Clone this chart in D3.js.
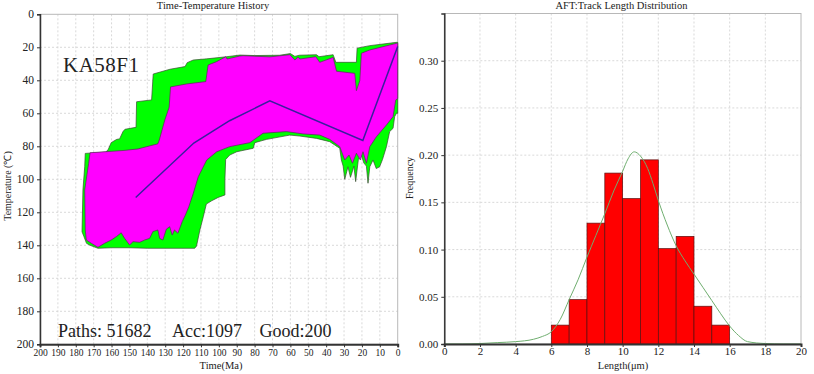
<!DOCTYPE html>
<html>
<head>
<meta charset="utf-8">
<script src="https://cdn.jsdelivr.net/npm/d3@7"></script>
<style>
  html, body { margin: 0; padding: 0; background: #fff; }
  svg { display: block; }
  text { font-family: "Liberation Serif", "Times New Roman", serif; fill: #222; }
</style>
</head>
<body>
<svg id="chart" width="814" height="374"></svg>
<script>
// ---------------- DATA ----------------
// Time-temperature history (time Ma, temperature °C)
const accTop = [[174.7,84.3],[163.1,83.5],[161.8,81.8],[160.2,77.8],[157.1,75.8],[155.5,75.5],[153.6,71.1],[152.5,69.7],[146.3,68.5],[146.0,53.0],[137.6,51.9],[136.7,36.2],[127.3,33.3],[118.9,31.7],[117.7,29.3],[114.3,27.7],[106.8,27.0],[95.6,25.7],[88.2,24.7],[80,25],[66,24.8],[60,23.8],[57.5,25.5],[55,24.8],[45.4,24.5],[44,25.7],[36.1,24.5],[34.6,29.1],[23.1,29.1],[22.7,20.5],[15.6,19],[0.7,17],[0,17]];
const accBottom = [[0,60],[0.7,60],[1.7,62],[2.6,69.1],[4.5,71.1],[6.3,80.2],[8.5,88],[10.1,92.4],[12,93.5],[13.8,88.3],[15.6,92.4],[16.6,102.4],[17.5,92],[19,90],[20.3,85.3],[22,88],[23.5,101.4],[24.5,92],[25.3,95],[26.4,98.8],[27.8,92.4],[29.6,100],[30.5,92],[31.5,88.3],[32.4,81.2],[38,77.2],[45.4,75.2],[54.7,73.8],[60.3,73.2],[73.3,75.8],[79.9,77.8],[80.8,81.2],[90,83.3],[93.9,85.3],[96.2,88],[96.6,100],[96.6,109.5],[100.4,111],[104,113],[107,115],[108.7,122.7],[110.6,130.7],[112.5,140.5],[113.5,141.8],[140,141.8],[150,141.5],[160,141.5],[167.6,141.8],[172,140],[174,138.8],[175.4,134.8],[176.5,131.8],[176,106.5],[175,92.4]];
const goodTop = [[172,83.9],[153,82.5],[145.3,81.6],[134.1,78.5],[133.3,76.2],[130.2,64],[127.8,56.4],[127,44],[118,42.2],[107.3,40.8],[106,30.7],[101.3,28.7],[96.1,25.7],[95.4,27.1],[88.3,25.3],[86.4,25.1],[71.5,25.8],[60.3,24.5],[57.5,27.7],[55.7,25.9],[54.7,27.1],[45.8,25.7],[43.6,29.1],[36.1,26.1],[34.2,34.5],[24,35.8],[23.1,46.3],[21.2,40.2],[20.3,23.6],[15.6,21.6],[0.7,17.6],[0,17.6]];
const goodBottom = [[0,51],[1.1,52],[2.6,62],[6.3,67.1],[11.9,74.2],[15.6,80.2],[17.5,90.3],[19.4,83.3],[20.9,88.3],[23.1,84.2],[25.3,90.3],[27.2,85.3],[29.6,88.3],[32.4,80.2],[38,75.8],[43.6,73.2],[52.9,72.5],[62.2,71.1],[75.3,72.1],[82.7,77.8],[89.2,79.2],[93.9,80.2],[101.2,83.3],[106.8,88.3],[111.5,98.4],[114.3,108.5],[116.8,116.6],[118.7,121.6],[120.5,125.7],[122.9,132.7],[124.8,130.7],[126.1,133.8],[127.5,128.7],[129.4,130.3],[131.3,136.8],[133.1,135.8],[134.1,130.7],[136.9,131.7],[138.7,135.8],[141.5,136.8],[144.3,138.2],[148,137.8],[149.9,139.8],[152.7,135.8],[154.6,132.4],[157.4,134.8],[160.2,136.8],[163.9,138.8],[167.6,141.2],[171.3,138.8],[174.1,136.8],[174.7,130.7],[175,106.5],[172.8,90.3]];
const bestPath = [[146.5,111],[114,78],[94,64.5],[71.5,52.5],[19.5,76.5],[0,19.5]];
const timeTicks = [200,190,180,170,160,150,140,130,120,110,100,90,80,70,60,50,40,30,20,10,0];
const tempTicks = [0,20,40,60,80,100,120,140,160,180,200];
const sampleName = "KA58F1";
const statsLabels = ["Paths: 51682", "Acc:1097", "Good:200"];

// Track length distribution
const binStarts = [6,7,8,9,10,11,12,13,14,15];
const binFreq = [0.020,0.047,0.128,0.181,0.154,0.195,0.101,0.114,0.040,0.020];
const curveLen = [0,1,2,3,4,5,5.5,6,6.5,7,7.5,8,8.5,9,9.5,10,10.3,10.65,11,11.4,11.7,12,12.5,13,13.5,14,14.5,15,15.5,16,16.5,17,18,19,20];
const curveFreq = [0,0,0.0005,0.0015,0.0025,0.005,0.008,0.013,0.026,0.047,0.068,0.092,0.115,0.138,0.162,0.183,0.196,0.2035,0.199,0.186,0.170,0.152,0.126,0.104,0.088,0.074,0.060,0.046,0.032,0.019,0.009,0.0025,0.0005,0,0];
const lenTicks = [0,2,4,6,8,10,12,14,16,18,20];
const freqTicks = [0,0.05,0.10,0.15,0.20,0.25,0.30];

// ---------------- DRAW ----------------
const svg = d3.select("#chart");
const serif = '"Liberation Serif", "Times New Roman", serif';

// ===== Left chart =====
const L = {x0: 40, x1: 397.7, y0: 14.3, y1: 344.3};
const xT = d3.scaleLinear().domain([200, 0]).range([L.x0, L.x1]);
const yT = d3.scaleLinear().domain([0, 200]).range([L.y0, L.y1]);

const gL = svg.append("g");
gL.selectAll(".vg").data(timeTicks.filter(d => d !== 200 && d !== 0)).enter().append("line")
  .attr("x1", d => xT(d)).attr("x2", d => xT(d)).attr("y1", L.y0).attr("y2", L.y1)
  .attr("stroke", "#cfcfcf").attr("stroke-width", 0.8).attr("stroke-dasharray", "2,2");
gL.selectAll(".hg").data(tempTicks.filter(d => d !== 0 && d !== 200)).enter().append("line")
  .attr("x1", L.x0).attr("x2", L.x1).attr("y1", d => yT(d)).attr("y2", d => yT(d))
  .attr("stroke", "#cfcfcf").attr("stroke-width", 0.8).attr("stroke-dasharray", "2,2");
gL.append("rect").attr("x", L.x0).attr("y", L.y0).attr("width", L.x1 - L.x0).attr("height", L.y1 - L.y0)
  .attr("fill", "none").attr("stroke", "#b8b8b8").attr("stroke-width", 1);

const areaLine = d3.line().x(d => xT(d[0])).y(d => yT(d[1]));
gL.append("path").attr("d", areaLine(accTop.concat(accBottom)) + "Z")
  .attr("fill", "#00ff00").attr("stroke", "#3a4a30").attr("stroke-width", 0.7);
gL.append("path").attr("d", areaLine(goodTop.concat(goodBottom)) + "Z")
  .attr("fill", "#ff00ff").attr("stroke", "#5a2a5a").attr("stroke-width", 0.7);
gL.append("path").attr("d", areaLine(bestPath))
  .attr("fill", "none").attr("stroke", "#3a1e9e").attr("stroke-width", 1.5);

const axB = d3.axisBottom(xT).tickValues(timeTicks).tickSize(3).tickFormat(d3.format("d"));
const gAxB = gL.append("g").attr("transform", `translate(0,${L.y1})`).call(axB);
gAxB.select(".domain").attr("stroke", "#333").attr("stroke-width", 2);
gAxB.selectAll(".tick line").attr("stroke", "#333");
gAxB.selectAll("text").attr("font-family", serif).attr("font-size", 9.5).attr("fill", "#222").attr("dy", "0.55em");

const axLft = d3.axisLeft(yT).tickValues(tempTicks).tickSize(3).tickFormat(d3.format("d"));
const gAxL = gL.append("g").attr("transform", `translate(${L.x0},0)`).call(axLft);
gAxL.select(".domain").attr("stroke", "#333").attr("stroke-width", 1.5);
gAxL.selectAll(".tick line").attr("stroke", "#333");
gAxL.selectAll("text").attr("font-family", serif).attr("font-size", 11.5).attr("fill", "#222");

gL.append("text").attr("x", 213).attr("y", 9).attr("text-anchor", "middle")
  .attr("font-size", 10.5).text("Time-Temperature  History");
gL.append("text").attr("x", 221).attr("y", 369).attr("text-anchor", "middle")
  .attr("font-size", 10.5).text("Time(Ma)");
gL.append("text").attr("transform", "translate(11,186) rotate(-90)").attr("text-anchor", "middle")
  .attr("font-size", 10).text("Temperature (℃)");
gL.append("text").attr("x", 63).attr("y", 72).attr("font-size", 21).attr("letter-spacing", 0.5).text(sampleName);
const statX = [58, 172, 259.5];
gL.selectAll(".stat").data(statsLabels).enter().append("text")
  .attr("x", (d, i) => statX[i]).attr("y", 336.5).attr("font-size", 18).text(d => d);

// ===== Right chart =====
const R = {x0: 444.3, x1: 801, y0: 13.5, y1: 344};
const xL = d3.scaleLinear().domain([0, 20]).range([R.x0, R.x1]);
const yF = d3.scaleLinear().domain([0, 0.35]).range([R.y1, R.y0]);
const gR = svg.append("g");

gR.selectAll(".vg").data(lenTicks.filter(d => d !== 0 && d !== 20)).enter().append("line")
  .attr("x1", d => xL(d)).attr("x2", d => xL(d)).attr("y1", R.y0).attr("y2", R.y1)
  .attr("stroke", "#cfcfcf").attr("stroke-width", 0.8).attr("stroke-dasharray", "2,2");
gR.selectAll(".hg").data(freqTicks.filter(d => d !== 0)).enter().append("line")
  .attr("x1", R.x0).attr("x2", R.x1).attr("y1", d => yF(d)).attr("y2", d => yF(d))
  .attr("stroke", "#cfcfcf").attr("stroke-width", 0.8).attr("stroke-dasharray", "2,2");
gR.append("rect").attr("x", R.x0).attr("y", R.y0).attr("width", R.x1 - R.x0).attr("height", R.y1 - R.y0)
  .attr("fill", "none").attr("stroke", "#b8b8b8").attr("stroke-width", 1);

gR.selectAll(".bar").data(binStarts).enter().append("rect")
  .attr("x", d => xL(d)).attr("width", d => xL(d + 1) - xL(d))
  .attr("y", (d, i) => yF(binFreq[i])).attr("height", (d, i) => yF(0) - yF(binFreq[i]))
  .attr("fill", "#ff0000").attr("stroke", "#5a1010").attr("stroke-width", 0.7);

const curve = d3.line().x(d => xL(d)).y((d, i) => yF(curveFreq[i])).curve(d3.curveMonotoneX);
gR.append("path").attr("d", curve(curveLen)).attr("fill", "none")
  .attr("stroke", "#6fae6f").attr("stroke-width", 1);

const axB2 = d3.axisBottom(xL).tickValues(lenTicks).tickSize(3).tickFormat(d3.format("d"));
const gAxB2 = gR.append("g").attr("transform", `translate(0,${R.y1})`).call(axB2);
gAxB2.select(".domain").attr("stroke", "#333").attr("stroke-width", 2);
gAxB2.selectAll(".tick line").attr("stroke", "#333");
gAxB2.selectAll("text").attr("font-family", serif).attr("font-size", 11).attr("fill", "#222").attr("dy", "0.45em");

const axL2 = d3.axisLeft(yF).tickValues(freqTicks).tickSize(3).tickFormat(d3.format(".2f"));
const gAxL2 = gR.append("g").attr("transform", `translate(${R.x0},0)`).call(axL2);
gAxL2.select(".domain").attr("stroke", "#333").attr("stroke-width", 1.5);
gAxL2.selectAll(".tick line").attr("stroke", "#333");
gAxL2.selectAll("text").attr("font-family", serif).attr("font-size", 11).attr("fill", "#222");

gR.append("text").attr("x", 621.5).attr("y", 9).attr("text-anchor", "middle")
  .attr("font-size", 10.5).text("AFT:Track Length Distribution");
gR.append("text").attr("x", 623).attr("y", 369).attr("text-anchor", "middle")
  .attr("font-size", 10.5).text("Length(μm)");
gR.append("text").attr("transform", "translate(413,178) rotate(-90)").attr("text-anchor", "middle")
  .attr("font-size", 10).text("Frequency");
</script>
</body>
</html>
